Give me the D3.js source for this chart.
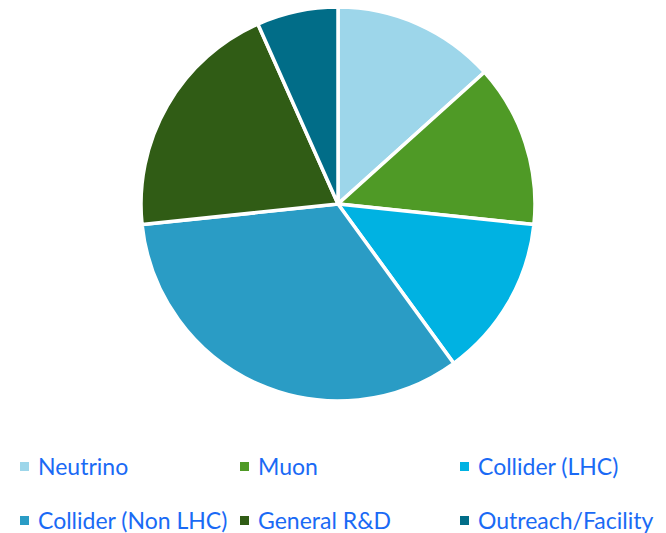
<!DOCTYPE html>
<html><head><meta charset="utf-8">
<script src="https://cdn.jsdelivr.net/npm/d3@7"></script>
<style>body{margin:0;background:#fff}svg{display:block}</style>
</head><body>
<svg id="c" width="666" height="533"></svg>
<script>
const categories = ["Neutrino","Muon","Collider (LHC)","Collider (Non LHC)","General R&D","Outreach/Facility"];
const values = [2,2,2,5,3,1];
const colors = ["#9dd6ea","#4f9a26","#00b2e2","#2a9cc5","#305c15","#016d88"];

const svg = d3.select("#c");
const cx = 338, cy = 204, r = 197;
const pie = d3.pie().sort(null).value(d => d.v);
const data = categories.map((c,i)=>({c, v: values[i], col: colors[i]}));
const arc = d3.arc().innerRadius(0).outerRadius(r);
svg.append("g").attr("transform",`translate(${cx},${cy})`)
  .selectAll("path").data(pie(data)).join("path")
  .attr("d", arc).attr("fill", d=>d.data.col)
  .attr("stroke","#fff").attr("stroke-width",3.5).attr("stroke-linejoin","miter");

const lg = svg.append("g");
const items = lg.selectAll("g").data(data).join("g")
  .attr("transform",(d,i)=>`translate(${20 + (i%3)*220},${475 + Math.floor(i/3)*54})`);
items.append("rect").attr("x",0).attr("y",-13).attr("width",9).attr("height",9).attr("fill",d=>d.col);
items.append("text").attr("x",18).attr("y",0).text(d=>d.c)
  .attr("font-family","Lato, 'Open Sans', sans-serif").attr("font-size",23).attr("fill","#1a6af5");
</script>
</body></html>
